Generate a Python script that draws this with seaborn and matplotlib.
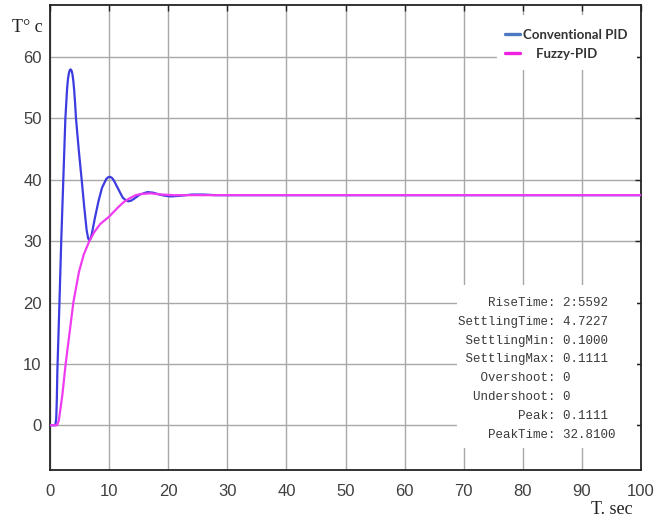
import numpy as np
import pandas as pd
import matplotlib
matplotlib.use("Agg")
import matplotlib.pyplot as plt
from matplotlib.lines import Line2D
from matplotlib.patches import Rectangle
import seaborn as sns

# ---- data ----
t_pid = [0, 0.9, 1.05, 1.15, 1.25, 1.6, 1.9, 2.25, 2.6, 2.9, 3.05, 3.2, 3.35, 3.5, 3.65,
         3.8, 3.95, 4.1, 4.25, 4.4, 4.9, 5.36, 5.8, 6.2, 6.45, 6.65, 6.85, 7.1, 7.6, 8.2,
         8.8, 9.5, 9.8, 10.15, 10.5, 10.8, 11.5, 12.3, 12.8, 13.25, 13.7, 14.2, 15.2, 16.5,
         17.5, 18.5, 19.5, 20.5, 22, 24, 26, 28, 100]
y_pid = [0, 0, 1, 4, 9, 20, 30, 40, 50, 55, 56.5, 57.4, 57.9, 58.0, 57.8,
         57.2, 56.1, 54.5, 52.4, 50, 44.5, 40, 35.5, 31.8, 30.5, 30.1, 30.4, 31.3, 33.8, 36.5,
         38.7, 40.1, 40.4, 40.5, 40.3, 39.9, 38.6, 37.1, 36.7, 36.5, 36.6, 36.9, 37.6, 38.0,
         37.9, 37.6, 37.4, 37.3, 37.4, 37.6, 37.6, 37.5, 37.5]

t_fuzzy = [0, 1.2, 1.5, 2.1, 2.65, 3.3, 3.95, 4.9, 5.7, 6.65, 7.5, 8.5, 10, 11.5, 12.5,
           13.5, 14.5, 15.5, 17, 19, 21, 100]
y_fuzzy = [0, 0, 0.8, 5, 10, 15, 20, 25, 27.8, 30, 31.5, 32.8, 34, 35.5, 36.4,
           37.0, 37.5, 37.7, 37.8, 37.6, 37.5, 37.5]

series_names = ["Conventional PID", "Fuzzy-PID"]

stat_labels = ["RiseTime", "SettlingTime", "SettlingMin", "SettlingMax",
               "Overshoot", "Undershoot", "Peak", "PeakTime"]
stat_values = ["2:5592", "4.7227", "0.1000", "0.1111", "0", "0", "0.1111", "32.8100"]

x_ticks = list(range(0, 101, 10))
y_ticks = list(range(0, 61, 10))

df = pd.concat([
    pd.DataFrame({"t": t_pid, "T": y_pid, "ctrl": series_names[0]}),
    pd.DataFrame({"t": t_fuzzy, "T": y_fuzzy, "ctrl": series_names[1]}),
])

# ---- plotting ----
sns.set_style("white")
plt.rcParams["font.family"] = ["Liberation Sans", "DejaVu Sans"]

W, H = 656, 522
fig = plt.figure(figsize=(W / 100, H / 100), dpi=100)
ax = fig.add_axes([50 / W, 52 / H, 591 / W, 465 / H])

line_colors = {series_names[0]: "#3c3ce0", series_names[1]: "#f03cf0"}
sns.lineplot(data=df, x="t", y="T", hue="ctrl", palette=line_colors, estimator=None,
             sort=False, linewidth=1.6, legend=False, ax=ax, zorder=3)

ax.set_xlim(0, 100)
ax.set_ylim(-7.3, 68.5)
ax.set_xticks(x_ticks)
ax.set_yticks(y_ticks)
ax.set_xlabel("")
ax.set_ylabel("")
ax.set_axisbelow(True)
ax.grid(True, color="#a8a8a8", linewidth=1.0)
ax.tick_params(direction="in", length=4, width=1, colors="#222222",
               top=True, right=True, labelsize=12, labelcolor="#404040")
ax.tick_params(axis="x", pad=10)
ax.tick_params(axis="y", pad=6)
for s in ax.spines.values():
    s.set_color("#222222")
    s.set_linewidth(1.3)

# white boxes hiding the grid behind the legend and the stats text
def px_box(x0, y0, x1, y1):
    ax0 = (x0 - 50) / 591
    ax1 = (x1 - 50) / 591
    ay0 = 1 - (y1 - 5) / 465
    ay1 = 1 - (y0 - 5) / 465
    return Rectangle((ax0, ay0), ax1 - ax0, ay1 - ay0, transform=ax.transAxes,
                     facecolor="white", edgecolor="none", zorder=1)

ax.add_patch(px_box(497, 15, 637, 70))
ax.add_patch(px_box(457, 285, 637, 448))

# legend
handles = [Line2D([], [], color="#4b78c0", linewidth=2.4),
           Line2D([], [], color="#f020e0", linewidth=2.4)]
leg = ax.legend(handles, [series_names[0], "    " + series_names[1]],
                loc="upper left", bbox_to_anchor=((505 - 50) / 591, 1 - (29 - 5) / 465),
                frameon=False, borderpad=0, borderaxespad=0, handlelength=1.1,
                handletextpad=0.3, labelspacing=0.5,
                prop={"family": "Lato", "weight": "bold", "size": 9.5})
for txt in leg.get_texts():
    txt.set_color("#333333")

# stats text
for i, (lab, val) in enumerate(zip(stat_labels, stat_values)):
    py = 303 + 18.8 * i
    ax.text((458 - 50) / 591, 1 - (py - 5) / 465, f"{lab:>12}: {val}",
            transform=ax.transAxes, ha="left", va="center",
            family="Liberation Mono", fontsize=9, color="#3a3a3a", zorder=4)

# axis captions
fig.text(27 / W, 1 - 27 / H, "T° c", family="Liberation Serif", fontsize=13,
         ha="center", va="center", color="#222222")
fig.text(612 / W, 1 - 510 / H, "T. sec", family="Liberation Serif", fontsize=13,
         ha="center", va="center", color="#222222")

fig.savefig("out.png", dpi=100)
